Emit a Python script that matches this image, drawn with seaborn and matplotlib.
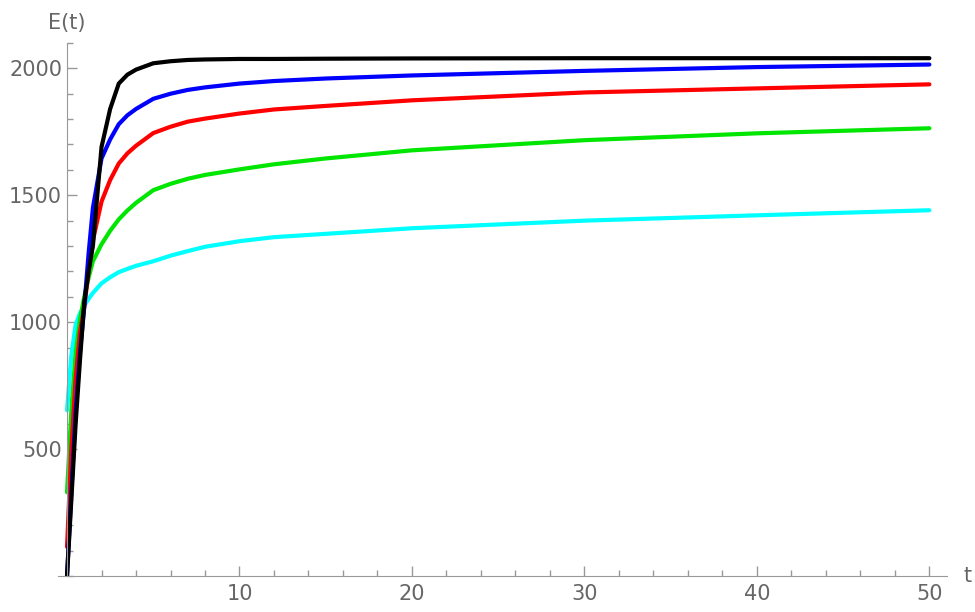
import numpy as np
import seaborn as sns
import matplotlib.pyplot as plt
from matplotlib.ticker import MultipleLocator

# values
t = [0, 0.25, 0.5, 0.75, 1, 1.25, 1.5, 2, 2.5, 3, 3.5, 4, 5, 6, 7, 8, 10, 12, 15, 20, 30, 40, 50]
black = [0, 300, 600, 850, 1080, 1200, 1300, 1690, 1840, 1940, 1975, 1995, 2020, 2028, 2033, 2035,
         2037, 2037, 2038, 2039, 2040, 2040, 2040]
blue = [0, 330, 650, 880, 1060, 1270, 1450, 1645, 1720, 1780, 1815, 1840, 1880, 1900, 1915, 1925,
        1940, 1950, 1960, 1972, 1990, 2005, 2015]
red = [115, 500, 780, 960, 1060, 1200, 1322, 1475, 1560, 1625, 1665, 1695, 1745, 1770, 1790, 1802,
       1822, 1838, 1852, 1874, 1905, 1921, 1937]
green = [330, 650, 880, 1010, 1100, 1175, 1240, 1307, 1360, 1405, 1440, 1470, 1520, 1545, 1565, 1580,
         1602, 1622, 1645, 1677, 1717, 1744, 1764]
cyan = [653, 870, 990, 1035, 1065, 1092, 1115, 1153, 1177, 1197, 1210, 1222, 1240, 1262, 1280, 1297,
        1319, 1335, 1348, 1370, 1400, 1421, 1441]
series = {"black": black, "blue": blue, "red": red, "#00e600": green, "cyan": cyan}

sns.set_style("white")
plt.rcParams['font.family'] = ['DejaVu Sans']

fig = plt.figure(figsize=(9.75, 6.12), dpi=100)
ax = fig.add_axes([0.0599, 0.0588, 0.911, 0.871])

# draw back to front so black ends on top
for color in ["cyan", "#00e600", "red", "blue", "black"]:
    sns.lineplot(x=t, y=series[color], color=color, linewidth=3, ax=ax)

ax.set_xlim(-0.5, 51)
ax.set_ylim(0, 2100)
grey = "#666666"
for s in ["top", "right"]:
    ax.spines[s].set_visible(False)
ax.spines["left"].set_position(("data", 0))
for s in ["left", "bottom"]:
    ax.spines[s].set_color("#999999")
ax.xaxis.set_minor_locator(MultipleLocator(2))
ax.yaxis.set_minor_locator(MultipleLocator(100))
ax.set_xticks([10, 20, 30, 40, 50])
ax.set_yticks([500, 1000, 1500, 2000])
ax.tick_params(which="both", bottom=True, left=True, direction="in", colors="#999999",
               labelcolor=grey, labelsize=15)
ax.tick_params(which="major", length=7, width=1)
ax.tick_params(which="minor", length=4, width=1)
ax.tick_params(axis="x", pad=6)

ax.text(0, 2140, "E(t)", ha="center", va="bottom", fontsize=15, color=grey, clip_on=False)
ax.text(52.2, 0, "t", ha="center", va="center", fontsize=15, color=grey, clip_on=False)

plt.savefig("out.png", dpi=100)
